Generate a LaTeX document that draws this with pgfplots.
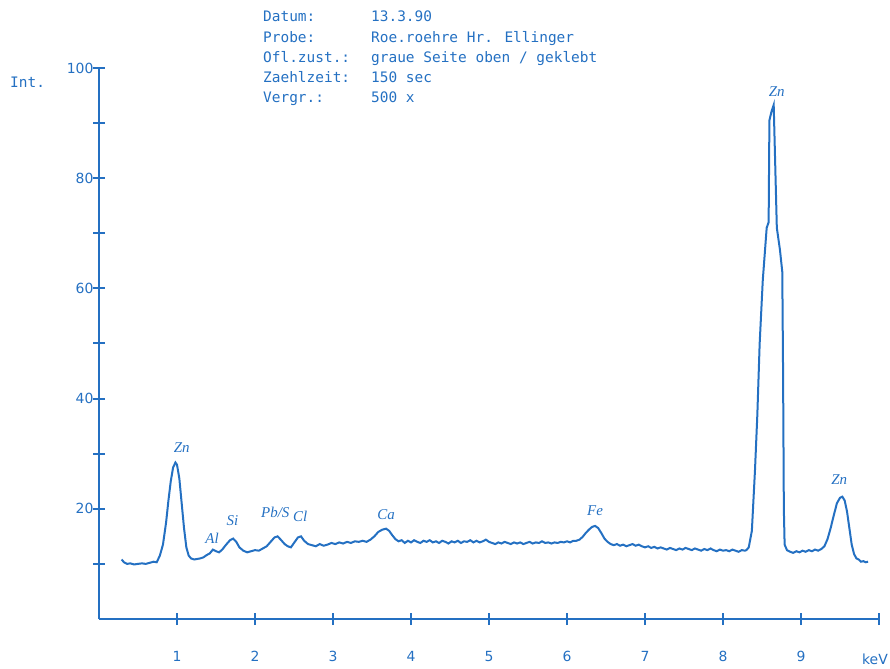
\documentclass[border=0pt]{standalone}
\usepackage{fontspec}
\setmainfont{DejaVu Sans}
\newfontfamily\monofont{DejaVu Sans Mono}
\newfontfamily\handfont{Liberation Serif}
\usepackage{pgfplots}
\pgfplotsset{compat=1.18}
\definecolor{ink}{RGB}{36,112,194}
\begin{document}
\begin{tikzpicture}
\useasboundingbox (-99bp,-50bp) rectangle (791bp,619bp);
\begin{axis}[
  at={(0,0)}, anchor=south west,
  scale only axis, width=780bp, height=551bp,
  xmin=0, xmax=10, ymin=0, ymax=100,
  axis lines=left, axis line style={-, ink, line width=2.3bp},
  xtick={1,2,...,10}, xticklabels={1,2,3,4,5,6,7,8,9,},
  ytick={10,20,...,100}, yticklabels={,20,,40,,60,,80,,100},
  tick align=center,
  major tick length=12bp,
  tick style={ink, line width=2bp},
  ticklabel style={font=\fontsize{14}{14}\selectfont, text=ink},
  xticklabel style={yshift=-23bp},
  yticklabel style={xshift=4bp},
  /pgf/number format/assume math mode=true,
  clip=false,
]
\addplot[ink, line width=2bp] coordinates {
(0.29,10.8) (0.32,10.3) (0.36,10.0) (0.40,10.1) (0.45,9.9) (0.50,10.0) (0.55,10.1) (0.60,10.0) (0.65,10.2) (0.70,10.4) (0.74,10.3)
(0.78,11.5) (0.82,13.5) (0.86,17.5) (0.89,21.5) (0.92,25.0) (0.95,27.5) (0.98,28.4) (1.00,28.0) (1.03,25.5) (1.06,21.0) (1.09,16.5) (1.12,13.0) (1.15,11.5) (1.18,11.0)
(1.22,10.8) (1.26,10.9) (1.30,11.0) (1.34,11.2) (1.38,11.6) (1.42,11.9) (1.46,12.6) (1.50,12.3) (1.54,12.1) (1.58,12.6) (1.63,13.5) (1.68,14.3) (1.72,14.6) (1.76,14.0) (1.80,13.0)
(1.85,12.4) (1.90,12.1) (1.95,12.3) (2.00,12.5) (2.05,12.4) (2.10,12.8) (2.15,13.2) (2.20,14.0) (2.25,14.8) (2.29,15.0) (2.33,14.4) (2.38,13.6) (2.42,13.2) (2.46,13.0)
(2.50,13.8) (2.55,14.8) (2.59,15.0) (2.63,14.2) (2.68,13.6) (2.73,13.4) (2.78,13.2) (2.83,13.6) (2.88,13.3) (2.93,13.5) (2.98,13.8) (3.03,13.6) (3.08,13.9) (3.13,13.7)
(3.18,14.0) (3.23,13.8) (3.28,14.1) (3.33,14.0) (3.38,14.2) (3.43,14.0) (3.48,14.4) (3.53,15.0) (3.58,15.8) (3.63,16.2) (3.68,16.4) (3.72,16.0) (3.76,15.2) (3.80,14.5) (3.84,14.1)
(3.88,14.3) (3.92,13.8) (3.96,14.2) (4.00,13.9) (4.04,14.3) (4.08,14.0) (4.12,13.8) (4.16,14.2) (4.20,14.0) (4.24,14.3) (4.28,13.9) (4.32,14.1) (4.36,13.8) (4.40,14.2)
(4.44,14.0) (4.48,13.7) (4.52,14.1) (4.56,13.9) (4.60,14.2) (4.64,13.8) (4.68,14.1) (4.72,14.0) (4.76,14.3) (4.80,13.9) (4.84,14.2) (4.88,13.9) (4.92,14.1) (4.96,14.4)
(5.00,14.0) (5.04,13.8) (5.08,13.6) (5.12,13.9) (5.16,13.7) (5.20,14.0) (5.24,13.8) (5.28,13.6) (5.32,13.9) (5.36,13.7) (5.40,13.9) (5.44,13.6) (5.48,13.8) (5.52,14.0)
(5.56,13.7) (5.60,13.9) (5.64,13.8) (5.68,14.1) (5.72,13.8) (5.76,13.9) (5.80,13.7) (5.84,13.9) (5.88,13.8) (5.92,14.0) (5.96,13.9) (6.00,14.1) (6.04,13.9) (6.08,14.2)
(6.12,14.2) (6.16,14.4) (6.20,14.9) (6.24,15.6) (6.28,16.2) (6.32,16.7) (6.36,16.9) (6.40,16.5) (6.44,15.6) (6.48,14.6) (6.52,14.0) (6.56,13.6) (6.60,13.4) (6.64,13.6)
(6.68,13.3) (6.72,13.5) (6.76,13.2) (6.80,13.4) (6.84,13.6) (6.88,13.3) (6.92,13.5) (6.96,13.2) (7.00,13.0) (7.04,13.2) (7.08,12.9) (7.12,13.1) (7.16,12.8) (7.20,13.0)
(7.24,12.8) (7.28,12.6) (7.32,12.9) (7.36,12.7) (7.40,12.5) (7.44,12.8) (7.48,12.6) (7.52,12.9) (7.56,12.7) (7.60,12.5) (7.64,12.8) (7.68,12.6) (7.72,12.4) (7.76,12.7)
(7.80,12.5) (7.84,12.8) (7.88,12.5) (7.92,12.3) (7.96,12.6) (8.00,12.4) (8.04,12.5) (8.08,12.3) (8.12,12.6) (8.16,12.4) (8.20,12.2) (8.24,12.5) (8.28,12.4) (8.30,12.5)
(8.33,13.0) (8.37,16) (8.41,27) (8.44,37) (8.47,50) (8.51,61.5) (8.56,71) (8.585,72) (8.595,90.5) (8.62,92) (8.65,93.3) (8.655,90.5) (8.69,71) (8.73,67) (8.76,63)
(8.77,45) (8.78,20) (8.79,13.5) (8.82,12.5) (8.86,12.2) (8.90,12.0) (8.94,12.3) (8.98,12.1) (9.02,12.4) (9.06,12.2) (9.10,12.5) (9.14,12.3) (9.18,12.6) (9.22,12.4)
(9.26,12.7) (9.30,13.2) (9.34,14.5) (9.38,16.5) (9.42,18.8) (9.46,21.0) (9.50,22.0) (9.53,22.2) (9.56,21.5) (9.59,19.5) (9.62,16.5) (9.65,13.5) (9.68,11.8) (9.71,11.0)
(9.74,10.8) (9.77,10.4) (9.80,10.5) (9.83,10.3) (9.86,10.4)
};
\node[text=ink, inner sep=0pt, anchor=base east, font=\fontsize{14}{14}\selectfont] at (axis cs:10,0) [xshift=9bp, yshift=-45bp] {keV};
\begin{scope}[every node/.style={text=ink, font=\handfont\itshape\fontsize{15}{15}\selectfont}]
\node at (axis cs:1.06,31.1) {Zn};
\node at (axis cs:1.45,14.6) {Al};
\node at (axis cs:1.71,17.8) {Si};
\node at (axis cs:2.26,19.3) {Pb/S};
\node at (axis cs:2.58,18.6) {Cl};
\node at (axis cs:3.68,18.9) {Ca};
\node at (axis cs:6.36,19.7) {Fe};
\node at (axis cs:8.69,95.8) {Zn};
\node at (axis cs:9.49,25.3) {Zn};
\end{scope}
\end{axis}
\begin{scope}[every node/.style={text=ink, inner sep=0pt, anchor=base west, font=\monofont\fontsize{14.5}{14.5}\selectfont}]
\node at (164bp,597bp) {Datum:};
\node at (164bp,576bp) {Probe:};
\node at (164bp,556bp) {Ofl.zust.:};
\node at (164bp,536bp) {Zaehlzeit:};
\node at (164bp,516bp) {Vergr.:};
\node at (272bp,597bp) {13.3.90};
\node at (272bp,576bp) {Roe.roehre Hr. Ellinger};
\node at (272bp,556bp) {graue Seite oben / geklebt};
\node at (272bp,536bp) {150 sec};
\node at (272bp,516bp) {500 x};
\node at (-89bp,531bp) {Int.};
\end{scope}
\end{tikzpicture}
\end{document}
